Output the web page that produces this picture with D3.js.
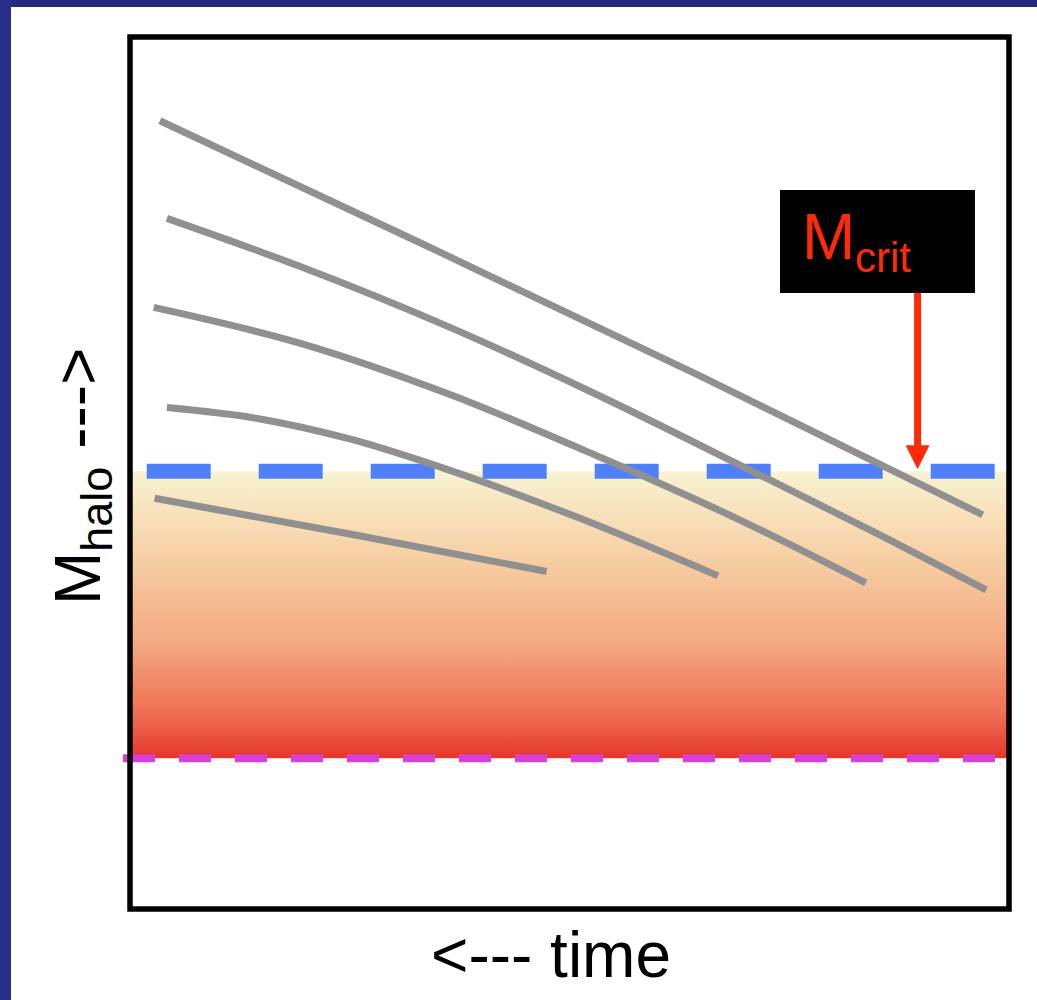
<!DOCTYPE html>
<html>
<head>
<meta charset="utf-8">
<script src="https://cdn.jsdelivr.net/npm/d3@7"></script>
<style>
  html, body { margin: 0; padding: 0; background: #ffffff; }
  svg { display: block; }
</style>
</head>
<body>
<div id="chart"></div>
<script>
// ---------- data (abstract units: time 0..100, halo mass 0..100) ----------
const track1 = [[3.4, 90.4], [33.0, 76.4], [64.9, 61.1], [97.0, 45.2]];
const track2 = [[4.2, 79.2], [19.3, 73.7], [36.4, 66.7], [53.5, 58.8], [70.0, 50.6], [85.3, 42.9], [97.4, 36.6]];
const track3 = [[2.7, 69.0], [19.3, 64.9], [36.4, 59.0], [53.5, 51.8], [69.4, 44.6], [83.7, 37.4]];
const track4 = [[4.2, 57.5], [14.8, 56.2], [25.0, 53.9], [36.4, 50.3], [51.2, 44.8], [66.9, 38.2]];
const track5 = [[2.8, 47.1], [25.0, 43.0], [47.4, 38.7]];
const tracks = [track1, track2, track3, track4, track5];

const mCrit = 50.2;      // blue dashed line (critical halo mass)
const mLow = 17.3;       // magenta dashed line
const critArrowX = 89.6; // position of the M_crit arrow along time

const xLabel = "<--- time";
const yLabelMain = "M";
const yLabelSub = "halo";
const yLabelTail = " --->";
const critMain = "M";
const critSub = "crit";

// ---------- layout ----------
const W = 1037, H = 1000;
const box = { left: 130, right: 1009, top: 37, bottom: 909 };

const svg = d3.select("#chart").append("svg")
  .attr("width", W).attr("height", H)
  .style("font-family", "'Liberation Sans', Arial, Helvetica, sans-serif");

// slide background border
svg.append("rect").attr("x", 0).attr("y", 0).attr("width", W).attr("height", H).attr("fill", "#ffffff");
svg.append("rect").attr("x", 0).attr("y", 0).attr("width", W).attr("height", 7).attr("fill", "#242a80");
svg.append("rect").attr("x", 0).attr("y", 0).attr("width", 11).attr("height", H).attr("fill", "#282e8c");

const x = d3.scaleLinear().domain([0, 100]).range([box.left, box.right]);
const y = d3.scaleLinear().domain([0, 100]).range([box.bottom, box.top]);

// gradient band between the two thresholds
const defs = svg.append("defs");
const grad = defs.append("linearGradient").attr("id", "band")
  .attr("x1", 0).attr("y1", 0).attr("x2", 0).attr("y2", 1);
[[0, "#f8f3d2"], [0.3, "#f7cfa4"], [0.6, "#f4a882"], [0.85, "#ee6e52"], [1, "#e6352a"]]
  .forEach(([o, c]) => grad.append("stop").attr("offset", o).attr("stop-color", c));

svg.append("rect")
  .attr("x", x(0)).attr("y", y(mCrit))
  .attr("width", x(100) - x(0)).attr("height", y(mLow) - y(mCrit))
  .attr("fill", "url(#band)");

// magenta dashed line
svg.append("line")
  .attr("x1", x(-0.8)).attr("x2", x(98.9))
  .attr("y1", y(mLow)).attr("y2", y(mLow))
  .attr("stroke", "#d83fd6").attr("stroke-width", 8)
  .attr("stroke-dasharray", "32 24");

// blue dashed line
svg.append("line")
  .attr("x1", x(1.9)).attr("x2", x(98.5))
  .attr("y1", y(mCrit)).attr("y2", y(mCrit))
  .attr("stroke", "#4f80fa").attr("stroke-width", 15)
  .attr("stroke-dasharray", "64 48");

// halo growth tracks
const line = d3.line().x(d => x(d[0])).y(d => y(d[1])).curve(d3.curveMonotoneX);
svg.append("g").selectAll("path").data(tracks).join("path")
  .attr("d", line)
  .attr("fill", "none")
  .attr("stroke", "#909090")
  .attr("stroke-width", 7)
  .attr("stroke-linecap", "butt");

// frame
svg.append("rect")
  .attr("x", box.left).attr("y", box.top)
  .attr("width", box.right - box.left).attr("height", box.bottom - box.top)
  .attr("fill", "none").attr("stroke", "#000").attr("stroke-width", 5.5);

// M_crit label box
const red = "#ff2b06";
svg.append("rect").attr("x", 780).attr("y", 190).attr("width", 195).attr("height", 103).attr("fill", "#000");
svg.append("text").attr("x", 802).attr("y", 259).attr("font-size", 64).attr("fill", red).text(critMain);
svg.append("text").attr("x", 855).attr("y", 272).attr("font-size", 42).attr("fill", red).text(critSub);

// arrow
const ax = x(critArrowX);
const tipY = y(mCrit) - 2;
svg.append("line").attr("x1", ax).attr("x2", ax).attr("y1", 293).attr("y2", tipY - 20)
  .attr("stroke", red).attr("stroke-width", 7);
svg.append("path")
  .attr("d", `M${ax - 12},${tipY - 24} L${ax + 12},${tipY - 24} L${ax},${tipY} Z`)
  .attr("fill", red);

// x label
svg.append("text").attr("x", 551).attr("y", 977).attr("text-anchor", "middle")
  .attr("font-size", 64).attr("fill", "#000").text(xLabel);

// y label
const yl = svg.append("text").attr("transform", "translate(100,605) rotate(-90)")
  .attr("font-size", 64).attr("fill", "#000");
yl.append("tspan").text(yLabelMain);
yl.append("tspan").attr("dy", 12).attr("font-size", 45).text(yLabelSub);
yl.append("tspan").attr("dy", -12).attr("font-size", 64).text(yLabelTail);
</script>
</body>
</html>
